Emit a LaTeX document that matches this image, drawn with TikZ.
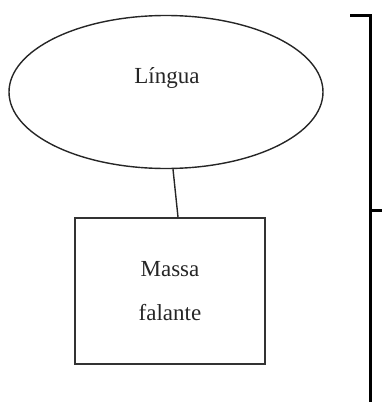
\documentclass[tikz,border=0pt]{standalone}
\usepackage{fontspec}
\setmainfont{Liberation Serif}
\usetikzlibrary{shapes.geometric}
\tikzset{
  txt/.style={font=\fontsize{23}{44}\selectfont, text=black!85},
  shapeline/.style={draw=black!85, line width=1.4pt},
  brace/.style={draw=black, line width=3pt}
}
\begin{document}
\begin{tikzpicture}[x=1pt,y=-1pt]
\useasboundingbox (0,0) rectangle (382,402);
\node[ellipse, shapeline, minimum width=314pt, minimum height=153pt, inner sep=0pt] (lingua) at (166,92) {};
\node[txt] (lt) at (167,78) {Língua};
\node[draw=black!80, line width=1.8pt, minimum width=190pt, minimum height=146pt, inner sep=0pt, align=center, txt] (box) at (170,291) {Massa\\falante};
\draw[shapeline] ([xshift=7pt]lingua.south) -- ([xshift=8pt]box.north);
\coordinate (bt) at (350,15);
\coordinate (bv) at (370,15);
\coordinate (bb) at (370,403);
\coordinate (bm) at (370,210);
\coordinate (bmr) at (382,210);
\draw[brace, line join=miter] (bt) -- (bv) -- (bb);
\draw[brace] (bm) -- (bmr);
\end{tikzpicture}
\end{document}
